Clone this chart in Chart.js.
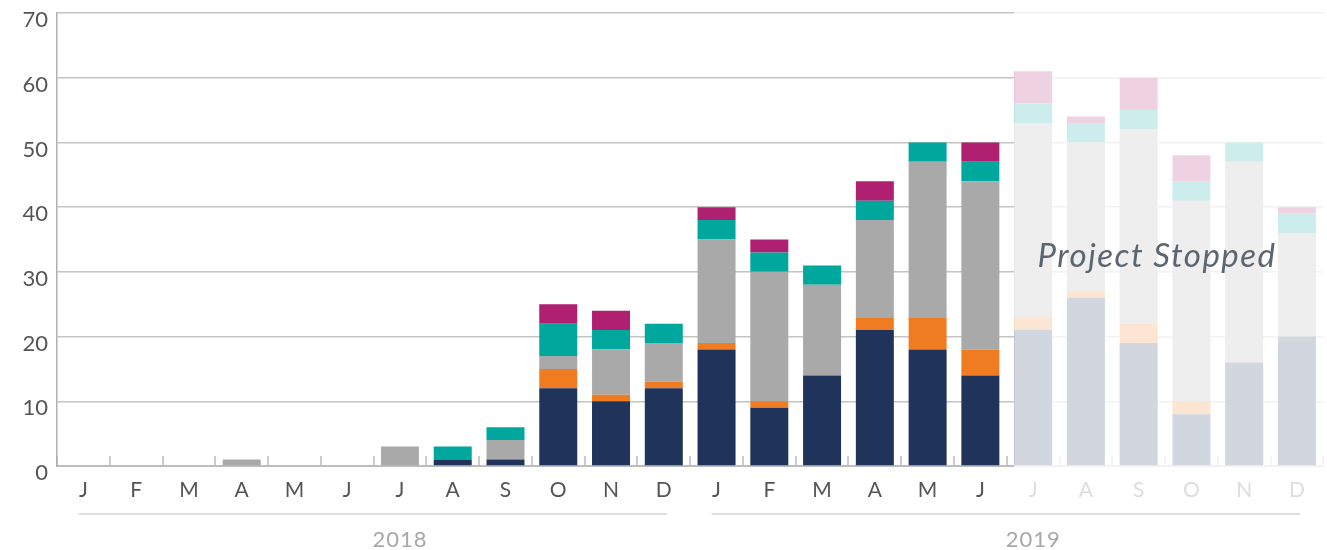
<!DOCTYPE html>
<html>
<head>
<meta charset="utf-8">
<title>Monthly volume 2018-2019</title>
<script src="https://cdn.jsdelivr.net/npm/chart.js@4"></script>
<style>
  html, body { margin: 0; padding: 0; background: #fff; }
  #wrap { width: 1327px; height: 550px; }
</style>
</head>
<body>
<div id="wrap"><canvas id="bar"></canvas></div>
<script>
const bar = document.getElementById('bar');

// one letter per month, two years
const months = ['J','F','M','A','M','J','J','A','S','O','N','D',
                'J','F','M','A','M','J','J','A','S','O','N','D'];
const years = ['2018', '2019'];

// stacked series, bottom to top
const navy    = [0,0,0,0,0,0,0,1,1,12,10,12, 18,9,14,21,18,14,21,26,19,8,16,20];
const orange  = [0,0,0,0,0,0,0,0,0,3,1,1,    1,1,0,2,5,4,2,1,3,2,0,0];
const grey    = [0,0,0,1,0,0,3,0,3,2,7,6,    16,20,14,15,24,26,30,23,30,31,31,16];
const teal    = [0,0,0,0,0,0,0,2,2,5,3,3,    3,3,3,3,3,3,3,3,3,3,3,3];
const magenta = [0,0,0,0,0,0,0,0,0,3,3,0,    2,2,0,3,0,3,5,1,5,4,0,1];

// months from this index on are greyed out
const stoppedFrom = 18;
const stoppedText = 'Project Stopped';

const font = 'Lato, "Noto Sans", sans-serif';

// washes out the stopped months, then writes the year captions
const overlay = {
  id: 'overlay',
  afterDraw(chart) {
    const { ctx, scales: { x, y } } = chart;
    const first = chart.getDatasetMeta(0).data[stoppedFrom];
    const left = first.x - first.width / 2;

    ctx.save();
    ctx.fillStyle = 'rgba(255,255,255,0.8)';
    ctx.fillRect(left, 0, chart.width - left, 506);

    ctx.font = 'italic 33px ' + font;
    ctx.letterSpacing = '1.5px';
    ctx.fillStyle = '#5b6670';
    ctx.textAlign = 'center';
    ctx.textBaseline = 'middle';
    const mid = (x.getPixelForValue(stoppedFrom) + x.getPixelForValue(months.length - 1)) / 2;
    ctx.fillText(stoppedText, mid - 8, y.getPixelForValue(32.4));

    // year captions with a rule above each
    ctx.font = '22px ' + font;
    ctx.letterSpacing = '1px';
    ctx.fillStyle = '#a8a8a8';
    ctx.strokeStyle = '#dedede';
    ctx.lineWidth = 2;
    ctx.textAlign = 'left';
    years.forEach((yr, i) => {
      const a = x.getPixelForValue(i * 12) - 5;
      const b = x.getPixelForValue(i * 12 + 11) + 3;
      ctx.beginPath();
      ctx.moveTo(a, 514);
      ctx.lineTo(b, 514);
      ctx.stroke();
      ctx.fillText(yr, (a + b) / 2, 540);
    });
    ctx.restore();
  }
};

new Chart(bar, {
  type: 'bar',
  data: {
    labels: months,
    datasets: [
      { label: 'navy', data: navy, backgroundColor: '#20335a' },
      { label: 'orange', data: orange, backgroundColor: '#f07c21' },
      { label: 'grey', data: grey, backgroundColor: '#a9a9a9' },
      { label: 'teal', data: teal, backgroundColor: '#00a79d' },
      { label: 'magenta', data: magenta, backgroundColor: '#b02070' }
    ]
  },
  options: {
    responsive: true,
    maintainAspectRatio: false,
    animation: false,
    barPercentage: 0.72,
    categoryPercentage: 1,
    layout: { padding: { top: 0, right: 3, left: 0, bottom: 0 } },
    plugins: {
      legend: { display: false },
      tooltip: { enabled: false }
    },
    scales: {
      x: {
        stacked: true,
        afterFit: s => { s.height = 84; },
        grid: {
          drawOnChartArea: false,
          tickLength: -10,
          color: '#cccccc',
          lineWidth: 2
        },
        border: { color: '#bdbdbd', width: 2 },
        ticks: {
          color: '#555',
          padding: 22,
          maxRotation: 0,
          autoSkip: false,
          font: { family: font, size: 21 }
        }
      },
      y: {
        stacked: true,
        min: 0,
        max: 70,
        afterFit: s => { s.width = 57; s.paddingTop = 13; },
        grid: { color: '#c4c4c4', lineWidth: 1.5, drawTicks: false },
        border: { color: '#b0b0b0', width: 1.5 },
        ticks: {
          stepSize: 10,
          color: '#555',
          padding: 9,
          labelOffset: 7,
          font: { family: font, size: 22 }
        }
      }
    }
  },
  plugins: [overlay]
});
</script>
</body>
</html>
